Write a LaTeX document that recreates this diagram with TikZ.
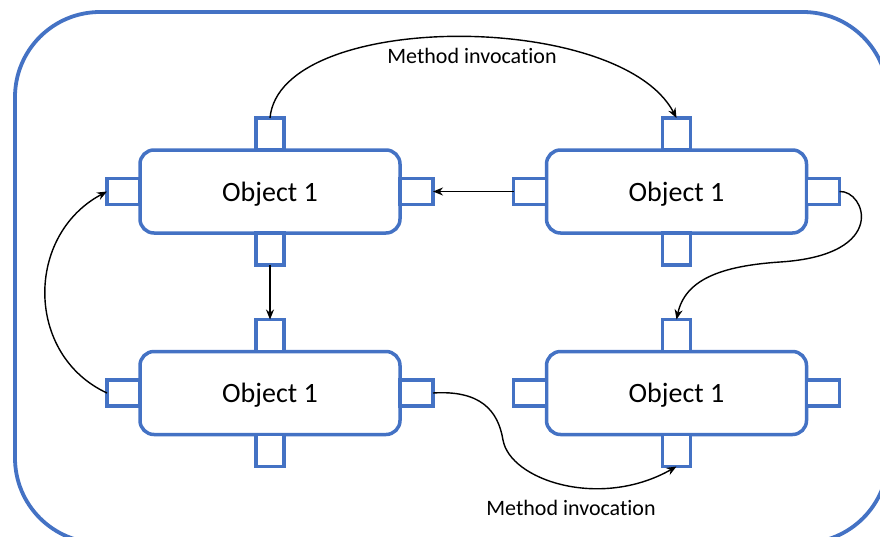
\documentclass[tikz,border=0pt]{standalone}
\usepackage{fontspec}
\setmainfont{Carlito}[RawFeature={-liga}]
\usetikzlibrary{arrows.meta}
\definecolor{objblue}{HTML}{4472C4}
\tikzset{
  frame/.style={draw=objblue, line width=3.8pt, rounded corners=85pt, minimum width=873pt, minimum height=531pt, inner sep=0pt, outer sep=0pt},
  objbox/.style={draw=objblue, line width=3.5pt, fill=white, rounded corners=14pt, minimum width=260pt, minimum height=83pt, inner sep=0pt, outer sep=0pt, text depth=0pt, font=\fontsize{28}{32}\selectfont},
  portv/.style={draw=objblue, line width=3.5pt, fill=white, minimum width=28pt, minimum height=32pt, inner sep=0pt, outer sep=0pt},
  porth/.style={draw=objblue, line width=3.5pt, fill=white, minimum width=33pt, minimum height=26pt, inner sep=0pt, outer sep=0pt},
  call/.style={draw=black, line width=1.4pt, -{Stealth[length=10pt,width=8pt]}},
  lbl/.style={font=\fontsize{22}{26}\selectfont, inner sep=0pt}
}
\newcommand{\objnode}[3]{%
  \node[objbox] (#1) at (#2,#3) {Object 1};
  \node[portv, anchor=south] (#1t) at (#1.north) {};
  \node[portv, anchor=north] (#1b) at (#1.south) {};
  \node[porth, anchor=east] (#1l) at (#1.west) {};
  \node[porth, anchor=west] (#1r) at (#1.east) {};
}
\begin{document}
\begin{tikzpicture}[x=1pt, y=-1pt]
\useasboundingbox (0,0) rectangle (880,536);
\node[frame] (outer) at (451.5,277.5) {};
\objnode{oa}{270}{191.5}
\objnode{ob}{676.5}{191.5}
\objnode{oc}{270}{393}
\objnode{od}{676.5}{393}
% connectors
\draw[call] (oat.north) .. controls (280,10) and (620,10) .. (obt.north);
\draw[call] (obl.west) -- (oar.east);
\draw[call] (oab.south) -- (oct.north);
\draw[call] (ocl.west) .. controls (25,355) and (25,235) .. (oal.west);
\draw[call] (obr.east) .. controls (865,190) and (890,255) .. (780,262)
  .. controls (720,266) and (685,280) .. (odt.north);
\draw[call] (ocr.east) .. controls (480,390) and (498,410) .. (503,440)
  .. controls (510,480) and (600,510) .. (odb.south);
\node[lbl] (lab1) at (472,56) {Method invocation};
\node[lbl] (lab2) at (571,508) {Method invocation};
\end{tikzpicture}
\end{document}
